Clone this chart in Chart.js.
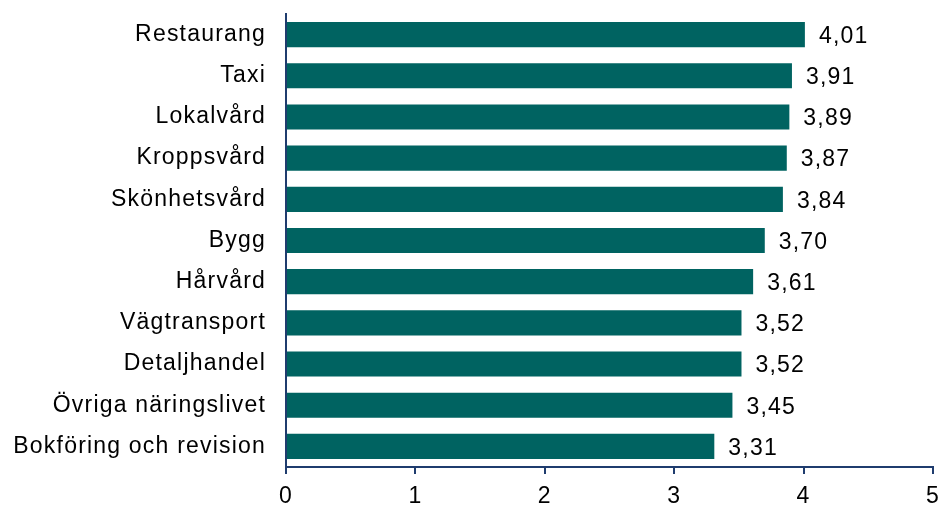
<!DOCTYPE html>
<html>
<head>
<meta charset="utf-8">
<script src="https://cdn.jsdelivr.net/npm/chart.js@4"></script>
<style>
  html, body { margin:0; padding:0; background:#fff; }
  #wrap { width:938px; height:508px; }
</style>
</head>
<body>
<div id="wrap"><canvas id="chart"></canvas></div>
<script>
// branscher och medelvärden
const categories = ['Restaurang','Taxi','Lokalvård','Kroppsvård','Skönhetsvård','Bygg','Hårvård','Vägtransport','Detaljhandel','Övriga näringslivet','Bokföring och revision'];
const values = [4.01, 3.91, 3.89, 3.87, 3.84, 3.70, 3.61, 3.52, 3.52, 3.45, 3.31];
const xTicks = [0, 1, 2, 3, 4, 5];

const barColor = '#006361';
const axisColor = '#1f3c6e';
const font = { family: 'Liberation Sans, Arial, sans-serif', size: 23 };
const spacing = '1.2px';

// lite bredare text, som i originalet
const letterSpacing = {
  id: 'letterSpacing',
  beforeLayout(chart) { chart.ctx.letterSpacing = spacing; },
  beforeDraw(chart) { chart.ctx.letterSpacing = spacing; }
};

// etiketter vid staplarnas slut
const valueLabels = {
  id: 'valueLabels',
  afterDatasetsDraw(chart) {
    const ctx = chart.ctx;
    const meta = chart.getDatasetMeta(0);
    ctx.save();
    ctx.letterSpacing = spacing;
    ctx.font = `${font.size}px ${font.family}`;
    ctx.fillStyle = '#000';
    ctx.textAlign = 'left';
    ctx.textBaseline = 'middle';
    meta.data.forEach((bar, i) => {
      ctx.fillText(values[i].toFixed(2).replace('.', ','), bar.x + 14, bar.y + 2);
    });
    ctx.restore();
  }
};

new Chart(document.getElementById('chart'), {
  type: 'bar',
  data: {
    labels: categories,
    datasets: [{
      data: values,
      backgroundColor: barColor,
      borderWidth: 0,
      barPercentage: 0.61,
      categoryPercentage: 1
    }]
  },
  options: {
    indexAxis: 'y',
    responsive: true,
    maintainAspectRatio: false,
    animation: false,
    layout: { padding: { top: 14, right: 0, left: 0, bottom: 0 } },
    plugins: { legend: { display: false }, tooltip: { enabled: false } },
    scales: {
      x: {
        min: 0, max: 5,
        afterBuildTicks: axis => { axis.ticks = xTicks.map(v => ({ value: v })); },
        grid: { drawOnChartArea: false, drawTicks: true, tickLength: 7, color: axisColor, lineWidth: 2 },
        border: { color: axisColor, width: 2 },
        ticks: { color: '#000', font: font, padding: 9 },
        afterFit: axis => { axis.height = 41; axis.paddingLeft = 0; axis.paddingRight = 5; }
      },
      y: {
        grid: { display: false, drawTicks: false },
        border: { color: axisColor, width: 2 },
        ticks: { color: '#000', font: font, padding: 20 },
        afterFit: axis => { axis.width = 286; axis.paddingTop = 0; axis.paddingBottom = 0; }
      }
    }
  },
  plugins: [letterSpacing, valueLabels]
});
</script>
</body>
</html>
